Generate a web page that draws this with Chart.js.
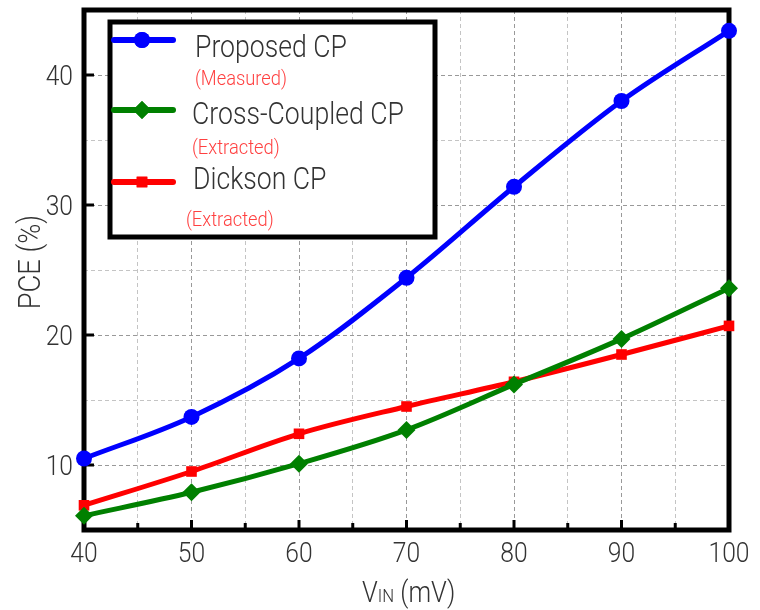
<!DOCTYPE html>
<html>
<head>
<meta charset="utf-8">
<script src="https://cdn.jsdelivr.net/npm/chart.js@4/dist/chart.umd.min.js"></script>
<style>
  html, body { margin: 0; padding: 0; background: #fff; }
  #wrap { width: 760px; height: 610px; }
</style>
</head>
<body>
<div id="wrap"><canvas id="pce-chart" width="760" height="610"></canvas></div>
<script>
// input voltage (mV) and PCE (%) of each charge pump
const vin = [40, 50, 60, 70, 80, 90, 100]
const proposed = [10.5, 13.7, 18.2, 24.4, 31.4, 38.0, 43.4]
const crossCoupled = [6.1, 7.9, 10.1, 12.7, 16.2, 19.7, 23.6]
const dickson = [6.9, 9.5, 12.4, 14.5, 16.4, 18.5, 20.7]

const xTicks = [40, 50, 60, 70, 80, 90, 100]
const yTicks = [10, 20, 30, 40]

const seriesNames = ['Proposed CP', 'Cross-Coupled CP', 'Dickson CP']
const seriesNotes = ['(Measured)', '(Extracted)', '(Extracted)']

const FONT = "Roboto, 'DejaVu Sans', sans-serif"
const TXT = '#333'

function pts(ys) {
  return vin.map((x, i) => ({ x: x, y: ys[i] }))
}

function makeSet(label, ys, color, style, r) {
  return {
    label: label,
    data: pts(ys),
    borderColor: color,
    backgroundColor: color,
    borderWidth: 5,
    pointStyle: style,
    pointRadius: r,
    pointHoverRadius: r,
    pointBorderWidth: 0,
    cubicInterpolationMode: 'monotone',
    clip: false
  }
}

// text squeezed horizontally to look like a condensed face
function condText(c, text, x, y, size, sx, align, weight) {
  c.save()
  c.font = (weight || 300) + ' ' + size + 'px ' + FONT
  const w = c.measureText(text).width * sx
  let left = x
  if (align === 'center') left = x - w / 2
  if (align === 'right') left = x - w
  c.translate(left, y)
  c.scale(sx, 1)
  c.textAlign = 'left'
  c.textBaseline = 'alphabetic'
  c.fillText(text, 0, 0)
  c.restore()
  return w
}

function fitScale(c, text, size, target) {
  c.font = '300 ' + size + 'px ' + FONT
  return target / c.measureText(text).width
}

// frame, inner ticks, tick labels, legend box and axis titles
const decor = {
  id: 'decor',
  beforeDatasetsDraw(chart) {
    const c = chart.ctx
    const a = chart.chartArea
    const xs = chart.scales.x
    const ys = chart.scales.y
    c.save()
    c.strokeStyle = '#000'
    c.lineWidth = 3
    yTicks.forEach(v => {
      const y = ys.getPixelForValue(v)
      c.beginPath(); c.moveTo(a.left, y); c.lineTo(a.left + 10, y); c.stroke()
    })
    for (let v = 45; v < 100; v += 5) {
      const x = xs.getPixelForValue(v)
      const len = v % 10 === 0 ? 10 : 7
      c.beginPath(); c.moveTo(x, a.bottom); c.lineTo(x, a.bottom - len); c.stroke()
    }
    c.lineWidth = 5
    c.strokeRect(a.left, a.top, a.right - a.left, a.bottom - a.top)

    // tick labels
    c.fillStyle = TXT
    const tsx = fitScale(c, '100', 28, 41)
    yTicks.forEach(v => {
      condText(c, String(v), a.left - 11, ys.getPixelForValue(v) + 10, 28, tsx, 'right')
    })
    xTicks.forEach(v => {
      condText(c, String(v), xs.getPixelForValue(v), a.bottom + 32, 28, tsx, 'center')
    })
    c.restore()
  },
  afterDatasetsDraw(chart) {
    const c = chart.ctx
    c.save()

    // legend
    const bx = 110, by = 22, bw = 325, bh = 215
    c.fillStyle = '#fff'
    c.fillRect(bx, by, bw, bh)
    c.strokeStyle = '#000'
    c.lineWidth = 5
    c.strokeRect(bx, by, bw, bh)

    const rows = [40, 110, 182]
    const textX = [195, 192, 193]
    const textY = [57, 124, 189]
    const noteX = [195, 192, 186]
    const noteY = [85, 154, 226]
    const lsx = fitScale(c, seriesNames[0], 31, 152)
    const nsx = fitScale(c, seriesNotes[0], 20, 92)
    chart.data.datasets.forEach((ds, i) => {
      const y = rows[i]
      c.strokeStyle = ds.borderColor
      c.lineWidth = 6
      c.lineCap = 'round'
      c.beginPath(); c.moveTo(114, y); c.lineTo(173, y); c.stroke()
      c.fillStyle = ds.borderColor
      Chart.helpers.drawPoint(c, {
        pointStyle: ds.pointStyle, radius: ds.pointRadius, borderWidth: 0, rotation: 0
      }, 142, y)
      c.fill()
      c.fillStyle = TXT
      condText(c, seriesNames[i], textX[i], textY[i], 31, lsx, 'left')
      c.fillStyle = '#ff4040'
      condText(c, seriesNotes[i], noteX[i], noteY[i], 20, nsx, 'left')
    })

    // y title
    const sx = fitScale(c, '100', 28, 41)
    c.fillStyle = TXT
    c.save()
    c.translate(40, 262)
    c.rotate(-Math.PI / 2)
    condText(c, 'PCE (%)', 0, 0, 31, sx, 'center')
    c.restore()

    // x title with subscript
    let x = 362
    x += condText(c, 'V', x, 602, 29, sx, 'left')
    x += condText(c, 'IN', x, 602, 19, sx, 'left')
    condText(c, ' (mV)', x, 602, 29, sx, 'left')
    c.restore()
  }
}

const ctx = document.getElementById('pce-chart')
const chart = new Chart(ctx, {
  type: 'line',
  data: {
    datasets: [
      makeSet(seriesNames[0], proposed, '#0000ff', 'circle', 8),
      makeSet(seriesNames[1], crossCoupled, '#008000', 'rectRot', 9),
      makeSet(seriesNames[2], dickson, '#ff0000', 'rect', 7.5)
    ]
  },
  options: {
    responsive: false,
    animation: false,
    events: [],
    layout: { padding: { left: 0, right: 31, top: 10, bottom: 0 } },
    plugins: {
      legend: { display: false },
      tooltip: { enabled: false }
    },
    scales: {
      x: {
        type: 'linear',
        min: 40,
        max: 100,
        afterFit: s => { s.height = 80 },
        ticks: { stepSize: 5, autoSkip: false, display: false },
        border: { display: false, dash: [4, 3] },
        grid: {
          drawTicks: false,
          color: ctx => ctx.tick && ctx.tick.value % 10 === 0 ? '#999' : '#c4c4c4',
          lineWidth: 1
        }
      },
      y: {
        min: 5,
        max: 45,
        afterFit: s => { s.width = 84 },
        ticks: { stepSize: 5, autoSkip: false, display: false },
        border: { display: false, dash: [4, 3] },
        grid: {
          drawTicks: false,
          color: ctx => ctx.tick && ctx.tick.value % 10 === 0 ? '#999' : '#c4c4c4',
          lineWidth: 1
        }
      }
    }
  },
  plugins: [decor]
})
</script>
</body>
</html>
